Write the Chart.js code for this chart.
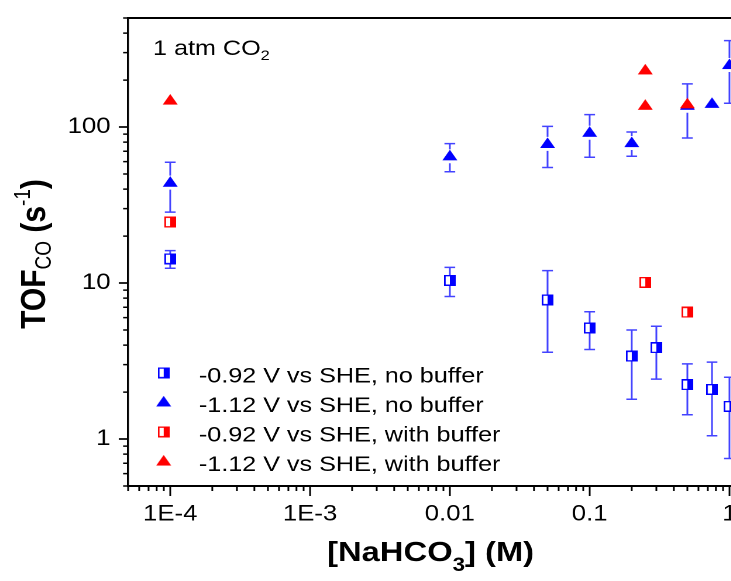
<!DOCTYPE html>
<html>
<head>
<meta charset="utf-8">
<script src="https://cdn.jsdelivr.net/npm/chart.js@4.4.1/dist/chart.umd.min.js"></script>
<style>
  html, body { margin: 0; padding: 0; background: #fff; overflow: hidden; }
  /* figure is drawn narrow and widened, like the exported plot */
  #wrap { width: 625px; height: 581px; transform: scaleX(1.17); transform-origin: 0 0; }
</style>
</head>
<body>
<div id="wrap"><canvas id="tofChart"></canvas></div>
<script>
// [NaHCO3] in M, TOF in s^-1, error = +/- sd
const concLowNoBuf = [1e-4, 0.01, 0.05, 0.1, 0.2, 0.3, 0.5, 0.75, 1];
const tofLowNoBuf  = [14.3, 10.4, 7.8, 5.15, 3.4, 3.85, 2.23, 2.08, 1.62];
const errLowNoBuf  = [1.85, 2.2, 4.2, 1.4, 1.6, 1.43, 0.8, 1.03, 0.87];

const concHighNoBuf = [1e-4, 0.01, 0.05, 0.1, 0.2, 0.5, 0.75, 1];
const tofHighNoBuf  = [44, 65, 78, 92, 79, 137, 141, 250];
const errHighNoBuf  = [15.5, 13.3, 23, 28, 14, 52, 0, 108];

const concLowBuf = [1e-4, 0.25, 0.5];
const tofLowBuf  = [24.6, 10.1, 6.5];

const concHighBuf = [1e-4, 0.25, 0.25, 0.5];
const tofHighBuf  = [148, 231, 137, 140];

const seriesLabels = [
  '-0.92 V vs SHE, no buffer',
  '-1.12 V vs SHE, no buffer',
  '-0.92 V vs SHE, with buffer',
  '-1.12 V vs SHE, with buffer'
];

const xTickValues = [1e-4, 1e-3, 0.01, 0.1, 1];
const xTickLabels = ['1E-4', '1E-3', '0.01', '0.1', '1'];
const yTickValues = [1, 10, 100];
const yTickLabels = ['1', '10', '100'];

const FONT = "'Liberation Sans', Arial, sans-serif";
const BLUE = '#0000ff';
const RED = '#ff0000';

const isDecade = v => {
  const l = Math.log10(v);
  return Math.abs(l - Math.round(l)) < 1e-9;
};
const isMinor = v => {
  const m = v / Math.pow(10, Math.floor(Math.log10(v) + 1e-9));
  return Math.abs(m - Math.round(m)) < 1e-6 && !isDecade(v);
};
const lookup = (vals, labels, v) => {
  const i = vals.findIndex(t => Math.abs(v - t) / t < 1e-6);
  return i < 0 ? '' : labels[i];
};
const toPoints = (xs, ys) => xs.map((x, i) => ({ x: x, y: ys[i] }));

// markers are painted at 4x and shown at their css size so they stay sharp
function makeMarker(w, h, paint) {
  const k = 4;
  const c = document.createElement('canvas');
  c.width = Math.ceil(w * k);
  c.height = Math.ceil(h * k);
  const g = c.getContext('2d');
  g.scale(k, k);
  paint(g);
  return new Promise(resolve => {
    const img = new Image();
    img.onload = () => resolve(img);
    img.src = c.toDataURL();
    img.width = w;
    img.height = h;
  });
}

const halfSquare = color => makeMarker(10, 11, g => {
  g.fillStyle = '#fff';
  g.fillRect(0.7, 0.7, 8.6, 9.6);
  g.fillStyle = color;
  g.fillRect(5, 0.7, 4.3, 9.6);
  g.strokeStyle = color;
  g.lineWidth = 1.4;
  g.strokeRect(0.7, 0.7, 8.6, 9.6);
});

const triangle = color => makeMarker(13, 13.4, g => {
  g.fillStyle = color;
  g.beginPath();
  g.moveTo(6.5, 0);
  g.lineTo(12.9, 11);
  g.lineTo(0.1, 11);
  g.closePath();
  g.fill();
});

const errorBars = {
  id: 'errorBars',
  beforeDatasetsDraw(chart) {
    const ctx = chart.ctx;
    const ys = chart.scales.y;
    chart.data.datasets.forEach((ds, di) => {
      if (!ds.errors) return;
      const meta = chart.getDatasetMeta(di);
      ctx.save();
      ctx.strokeStyle = ds.errorColor;
      ctx.lineWidth = 1.5;
      ds.errors.forEach((e, i) => {
        if (!e) return;
        const pt = meta.data[i];
        const v = ds.data[i].y;
        const x = pt.x, y = pt.y;
        const top = ys.getPixelForValue(v + e);
        const bot = ys.getPixelForValue(v - e);
        const gap = ds.errorGap;
        ctx.beginPath();
        if (top < y - gap) { ctx.moveTo(x, top); ctx.lineTo(x, y - gap); }
        if (bot > y + gap) { ctx.moveTo(x, y + gap); ctx.lineTo(x, bot); }
        ctx.moveTo(x - 4.6, top); ctx.lineTo(x + 4.6, top);
        ctx.moveTo(x - 4.6, bot); ctx.lineTo(x + 4.6, bot);
        ctx.stroke();
      });
      ctx.restore();
    });
  }
};

function drawRuns(ctx, runs, x, y) {
  let cx = x;
  runs.forEach(r => {
    ctx.font = r.font;
    ctx.fillText(r.text, cx, y + (r.dy || 0));
    cx += ctx.measureText(r.text).width;
  });
}
function runsWidth(ctx, runs) {
  let w = 0;
  runs.forEach(r => { ctx.font = r.font; w += ctx.measureText(r.text).width; });
  return w;
}

const decorations = {
  id: 'decorations',
  afterDraw(chart) {
    const ctx = chart.ctx;
    const area = chart.chartArea;
    const xs = chart.scales.x, ys = chart.scales.y;
    ctx.save();
    ctx.strokeStyle = '#000';

    // minor ticks
    ctx.lineWidth = 1.5;
    ctx.beginPath();
    xs.ticks.forEach(t => {
      if (!isMinor(t.value)) return;
      const px = xs.getPixelForValue(t.value);
      ctx.moveTo(px, area.bottom); ctx.lineTo(px, area.bottom + 5);
    });
    ys.ticks.forEach(t => {
      if (!isMinor(t.value)) return;
      const py = ys.getPixelForValue(t.value);
      ctx.moveTo(area.left, py); ctx.lineTo(area.left - 4.3, py);
    });
    ctx.stroke();

    // top frame line
    ctx.lineWidth = 2;
    ctx.beginPath();
    ctx.moveTo(area.left - 0.85, area.top);
    ctx.lineTo(area.right, area.top);
    ctx.stroke();

    ctx.fillStyle = '#000';
    ctx.textBaseline = 'alphabetic';

    // legend
    const marks = chart.data.datasets.map(ds => ds.pointStyle);
    seriesLabels.forEach((label, i) => {
      const rowY = 382.3 + i * 29.55;
      const m = marks[i];
      ctx.drawImage(m, 139.9 - m.width / 2, rowY - 9.5 - m.height / 2, m.width, m.height);
      ctx.font = '21.5px ' + FONT;
      ctx.fillText(label, 170, rowY);
    });

    // gas note
    drawRuns(ctx, [
      { text: '1 atm CO', font: '21.5px ' + FONT },
      { text: '2', font: '14px ' + FONT, dy: 5 }
    ], 130.8, 55);

    // x title
    const xRuns = [
      { text: '[NaHCO', font: 'bold 28px ' + FONT },
      { text: '3', font: 'bold 19px ' + FONT, dy: 10 },
      { text: '] (M)', font: 'bold 28px ' + FONT }
    ];
    drawRuns(ctx, xRuns, 368 - runsWidth(ctx, xRuns) / 2, 561);

    // y title, reading upwards
    const yRuns = [
      { text: 'TOF', font: 'bold 30px ' + FONT },
      { text: 'CO', font: '19px ' + FONT, dy: 5 },
      { text: ' (s', font: 'bold 30px ' + FONT },
      { text: '-1', font: '19px ' + FONT, dy: -13 },
      { text: ')', font: 'bold 30px ' + FONT }
    ];
    const yLen = runsWidth(ctx, yRuns);
    ctx.translate(38.5, 254 + yLen / 2);
    ctx.rotate(-Math.PI / 2);
    drawRuns(ctx, yRuns, 0, 0);
    ctx.restore();
  }
};

Promise.all([halfSquare(BLUE), triangle(BLUE), halfSquare(RED), triangle(RED)]).then(([sqB, trB, sqR, trR]) => {
  new Chart(document.getElementById('tofChart'), {
    type: 'scatter',
    data: {
      datasets: [
        { label: seriesLabels[0], data: toPoints(concLowNoBuf, tofLowNoBuf), errors: errLowNoBuf,
          errorColor: 'rgba(20,20,255,0.8)', errorGap: 5, pointStyle: sqB, order: 2 },
        { label: seriesLabels[1], data: toPoints(concHighNoBuf, tofHighNoBuf), errors: errHighNoBuf,
          errorColor: 'rgba(20,20,255,0.8)', errorGap: 7, pointStyle: trB, order: 2 },
        { label: seriesLabels[2], data: toPoints(concLowBuf, tofLowBuf), pointStyle: sqR, order: 1 },
        { label: seriesLabels[3], data: toPoints(concHighBuf, tofHighBuf), pointStyle: trR, order: 1 }
      ]
    },
    options: {
      responsive: true,
      maintainAspectRatio: false,
      animation: false,
      devicePixelRatio: 2,
      layout: { autoPadding: false, padding: { top: 18, left: 0, right: 0, bottom: 0 } },
      plugins: { legend: { display: false }, tooltip: { enabled: false } },
      elements: { point: { radius: 6 } },
      scales: {
        x: {
          type: 'logarithmic',
          min: 5e-5,
          max: 1.03,
          border: { color: '#000', width: 2 },
          grid: {
            drawOnChartArea: false,
            tickLength: 10,
            tickWidth: 1.5,
            tickColor: c => (c.tick && isDecade(c.tick.value)) ? '#000' : 'rgba(0,0,0,0)'
          },
          ticks: {
            autoSkip: false,
            maxRotation: 0,
            padding: 5,
            color: '#000',
            font: { family: FONT, size: 22 },
            callback: v => lookup(xTickValues, xTickLabels, v)
          },
          afterFit: s => { s.height = 95; s.paddingLeft = 0; s.paddingRight = 0; }
        },
        y: {
          type: 'logarithmic',
          min: 0.5,
          max: 500,
          border: { color: '#000', width: 1.7 },
          grid: {
            drawOnChartArea: false,
            tickLength: 8,
            tickWidth: 1.7,
            tickColor: c => (c.tick && isDecade(c.tick.value)) ? '#000' : 'rgba(0,0,0,0)'
          },
          ticks: {
            autoSkip: false,
            padding: 7,
            color: '#000',
            font: { family: FONT, size: 22 },
            callback: v => lookup(yTickValues, yTickLabels, v)
          },
          afterFit: s => { s.width = 109.5; s.paddingTop = 0; s.paddingBottom = 0; }
        }
      }
    },
    plugins: [errorBars, decorations]
  });
});
</script>
</body>
</html>
